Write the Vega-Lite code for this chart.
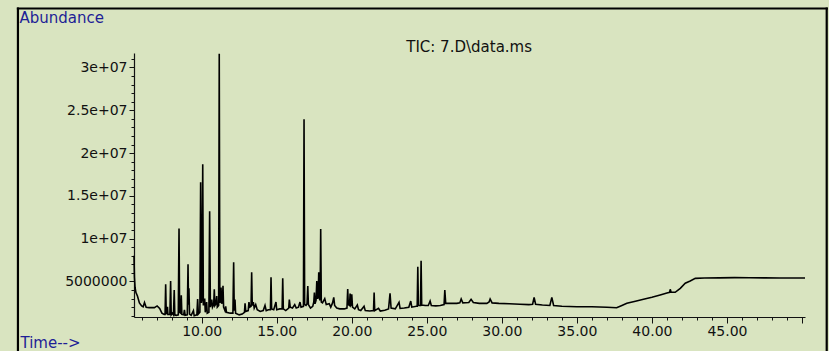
{
"$schema": "https://vega.github.io/schema/vega-lite/v6.json",
"width": 671, "height": 264,
"autosize": "none",
"padding": {"left": 134, "top": 53, "right": 24, "bottom": 34},
"background": "#d9e4c0",
"config": {"view": {"stroke": null}, "font": "DejaVu Sans"},
"data": {"values": [
{"t":5.49,"v":8000000},{"t":5.52,"v":5500000},{"t":5.56,"v":4300000},{"t":5.62,"v":3700000},{"t":5.72,"v":3300000},{"t":5.85,"v":2500000},{"t":6.0,"v":2150000},{"t":6.1,"v":2050000},{"t":6.19,"v":2550000},{"t":6.3,"v":2000000},{"t":6.5,"v":1950000},{"t":6.85,"v":1950000},{"t":7.03,"v":2150000},{"t":7.2,"v":1850000},{"t":7.35,"v":1300000},{"t":7.5,"v":1150000},
{"t":7.56,"v":1150000},{"t":7.6,"v":4670000},{"t":7.64,"v":1200000},{"t":7.7,"v":1400000},{"t":7.72,"v":2050000},{"t":7.75,"v":1150000},{"t":7.88,"v":1150000},{"t":7.93,"v":5060000},{"t":7.97,"v":1100000},{"t":8.05,"v":1300000},{"t":8.12,"v":1100000},{"t":8.17,"v":4000000},{"t":8.21,"v":1100000},{"t":8.3,"v":1050000},{"t":8.44,"v":1100000},{"t":8.49,"v":11200000},{"t":8.53,"v":1400000},{"t":8.6,"v":1300000},{"t":8.64,"v":3400000},{"t":8.68,"v":1150000},{"t":8.8,"v":1100000},{"t":8.85,"v":1700000},{"t":8.9,"v":1050000},{"t":9.04,"v":1100000},{"t":9.09,"v":7000000},{"t":9.12,"v":2300000},{"t":9.15,"v":4200000},{"t":9.19,"v":1200000},{"t":9.3,"v":1050000},{"t":9.45,"v":1600000},{"t":9.5,"v":1000000},{"t":9.68,"v":1100000},{"t":9.73,"v":2950000},{"t":9.78,"v":1200000},
{"t":9.88,"v":1400000},{"t":9.93,"v":16600000},{"t":9.98,"v":2500000},{"t":10.02,"v":3000000},{"t":10.07,"v":18700000},{"t":10.11,"v":2200000},{"t":10.2,"v":3000000},{"t":10.24,"v":1400000},{"t":10.33,"v":2600000},{"t":10.37,"v":1300000},{"t":10.48,"v":1400000},{"t":10.53,"v":13200000},{"t":10.58,"v":2000000},{"t":10.67,"v":2900000},{"t":10.72,"v":2000000},{"t":10.8,"v":2300000},{"t":10.84,"v":4100000},{"t":10.88,"v":2200000},{"t":10.95,"v":2400000},{"t":11.0,"v":3300000},{"t":11.04,"v":2000000},{"t":11.13,"v":2200000},{"t":11.17,"v":31600000},{"t":11.21,"v":2500000},{"t":11.25,"v":2800000},{"t":11.29,"v":4300000},{"t":11.33,"v":2400000},{"t":11.38,"v":2600000},{"t":11.42,"v":4500000},{"t":11.46,"v":2000000},{"t":11.55,"v":1600000},{"t":11.6,"v":2100000},{"t":11.65,"v":1400000},
{"t":11.9,"v":1300000},{"t":12.08,"v":1300000},{"t":12.13,"v":7240000},{"t":12.17,"v":1600000},{"t":12.22,"v":2900000},{"t":12.26,"v":1300000},{"t":12.5,"v":1100000},{"t":12.7,"v":1200000},{"t":12.85,"v":1400000},{"t":12.89,"v":2450000},{"t":12.94,"v":1500000},{"t":13.1,"v":1600000},{"t":13.15,"v":2600000},{"t":13.2,"v":2000000},{"t":13.29,"v":2100000},{"t":13.33,"v":6070000},{"t":13.37,"v":2200000},{"t":13.44,"v":2600000},{"t":13.5,"v":1900000},{"t":13.6,"v":2300000},{"t":13.7,"v":1700000},{"t":13.9,"v":1500000},{"t":14.1,"v":1600000},{"t":14.22,"v":2200000},{"t":14.3,"v":1600000},{"t":14.45,"v":1700000},{"t":14.58,"v":1700000},{"t":14.62,"v":5500000},{"t":14.66,"v":1800000},{"t":14.8,"v":1700000},{"t":14.95,"v":2600000},{"t":15.0,"v":1700000},{"t":15.2,"v":1800000},{"t":15.36,"v":1800000},{"t":15.4,"v":5370000},{"t":15.44,"v":1800000},{"t":15.6,"v":1600000},{"t":15.8,"v":1900000},{"t":15.84,"v":2900000},{"t":15.9,"v":2000000},{"t":16.05,"v":1900000},{"t":16.2,"v":2300000},{"t":16.3,"v":1900000},{"t":16.45,"v":2000000},{"t":16.55,"v":2600000},{"t":16.62,"v":2000000},
{"t":16.78,"v":2100000},{"t":16.82,"v":23950000},{"t":16.86,"v":2300000},{"t":16.95,"v":2200000},{"t":17.02,"v":2400000},{"t":17.07,"v":4470000},{"t":17.11,"v":2300000},{"t":17.25,"v":1900000},{"t":17.4,"v":2100000},{"t":17.47,"v":2600000},{"t":17.51,"v":3700000},{"t":17.55,"v":2400000},{"t":17.62,"v":2800000},{"t":17.67,"v":5060000},{"t":17.71,"v":3000000},{"t":17.76,"v":3200000},{"t":17.8,"v":6070000},{"t":17.84,"v":3000000},{"t":17.89,"v":2800000},{"t":17.93,"v":11130000},{"t":17.97,"v":2600000},{"t":18.05,"v":2500000},{"t":18.2,"v":3000000},{"t":18.3,"v":2300000},{"t":18.5,"v":2400000},{"t":18.6,"v":2000000},{"t":18.72,"v":2500000},{"t":18.8,"v":3150000},{"t":18.86,"v":2200000},{"t":19.0,"v":1900000},{"t":19.2,"v":1800000},{"t":19.5,"v":1800000},{"t":19.68,"v":1900000},{"t":19.73,"v":4120000},{"t":19.77,"v":2300000},{"t":19.85,"v":2200000},{"t":19.89,"v":3600000},{"t":19.93,"v":2200000},{"t":19.97,"v":2300000},{"t":20.0,"v":3500000},{"t":20.05,"v":2000000},{"t":20.2,"v":1800000},{"t":20.37,"v":2250000},{"t":20.45,"v":1700000},{"t":20.6,"v":1600000},{"t":20.82,"v":2100000},{"t":20.9,"v":1600000},{"t":21.2,"v":1550000},{"t":21.45,"v":1600000},{"t":21.49,"v":3700000},{"t":21.53,"v":1600000},{"t":21.78,"v":1870000},{"t":21.9,"v":1550000},{"t":22.2,"v":1650000},{"t":22.45,"v":1800000},{"t":22.55,"v":3620000},{"t":22.62,"v":1900000},{"t":22.9,"v":1800000},{"t":23.15,"v":2570000},{"t":23.22,"v":1850000},{"t":23.5,"v":1900000},{"t":23.8,"v":2000000},{"t":23.93,"v":2720000},{"t":24.0,"v":2000000},{"t":24.3,"v":2100000},{"t":24.36,"v":2100000},{"t":24.4,"v":6730000},{"t":24.44,"v":2200000},{"t":24.58,"v":2200000},{"t":24.62,"v":7430000},{"t":24.66,"v":2250000},{"t":24.9,"v":2200000},{"t":25.1,"v":2200000},{"t":25.22,"v":2720000},{"t":25.3,"v":2200000},{"t":25.6,"v":2150000},{"t":25.9,"v":2200000},{"t":26.15,"v":2300000},{"t":26.2,"v":4000000},{"t":26.26,"v":2450000},{"t":26.6,"v":2450000},{"t":27.0,"v":2450000},{"t":27.2,"v":2500000},{"t":27.29,"v":2960000},{"t":27.4,"v":2500000},{"t":27.8,"v":2550000},{"t":27.95,"v":2920000},{"t":28.1,"v":2550000},{"t":28.5,"v":2450000},{"t":29.0,"v":2450000},{"t":29.15,"v":2600000},{"t":29.22,"v":2960000},{"t":29.35,"v":2500000},{"t":29.8,"v":2450000},{"t":30.5,"v":2400000},{"t":31.2,"v":2350000},{"t":31.8,"v":2300000},{"t":32.05,"v":2350000},{"t":32.15,"v":3150000},{"t":32.25,"v":2350000},{"t":32.7,"v":2250000},{"t":33.2,"v":2200000},{"t":33.33,"v":3150000},{"t":33.45,"v":2200000},{"t":34.0,"v":2100000},{"t":35.0,"v":2050000},{"t":36.0,"v":2050000},{"t":37.0,"v":2000000},{"t":37.65,"v":1940000},{"t":38.0,"v":2200000},{"t":38.33,"v":2450000},{"t":38.9,"v":2700000},{"t":39.44,"v":2920000},{"t":40.0,"v":3150000},{"t":40.55,"v":3420000},{"t":41.0,"v":3650000},{"t":41.18,"v":3740000},{"t":41.22,"v":4090000},{"t":41.28,"v":3740000},{"t":41.55,"v":3740000},{"t":41.89,"v":4200000},{"t":42.22,"v":4800000},{"t":42.55,"v":5060000},{"t":42.89,"v":5370000},{"t":43.5,"v":5400000},{"t":44.5,"v":5420000},{"t":45.5,"v":5450000},{"t":46.5,"v":5430000},{"t":47.5,"v":5420000},{"t":48.5,"v":5400000},{"t":49.5,"v":5400000},{"t":50.2,"v":5400000}
]},
"layer": [
{"mark": {"type": "line", "color": "#000000", "strokeWidth": 1.6},
 "encoding": {
  "x": {"field": "t", "type": "quantitative",
   "scale": {"domain": [5.49, 50.2], "nice": false, "zero": false},
   "axis": {"values": [6,7,8,9,10,11,12,13,14,15,16,17,18,19,20,21,22,23,24,25,26,27,28,29,30,31,32,33,34,35,36,37,38,39,40,41,42,43,44,45,46,47,48,49,50],
    "tickCount": 200,
    "labelExpr": "datum.value % 5 === 0 && datum.value < 50 ? format(datum.value, '.2f') : ''",
    "tickSize": {"condition": {"test": "datum.value % 5 === 0", "value": 6}, "value": 3},
    "tickColor": "#111111", "domainColor": "#111111", "domainWidth": 1.2,
    "labelFontSize": 14, "labelColor": "#111111", "labelPadding": 1, "labelOverlap": false, "labelFlush": false, "grid": false,
    "title": "Time-->", "titleX": -114, "titleY": 18, "titleAlign": "left", "titleBaseline": "top", "titleColor": "#1e1e96", "titleFontWeight": "normal", "titleFontSize": 15, "titleAnchor": null}},
  "y": {"field": "v", "type": "quantitative",
   "scale": {"domain": [853000, 31690000], "nice": false, "zero": false},
   "axis": {"values": [1000000,2000000,3000000,4000000,5000000,6000000,7000000,8000000,9000000,10000000,11000000,12000000,13000000,14000000,15000000,16000000,17000000,18000000,19000000,20000000,21000000,22000000,23000000,24000000,25000000,26000000,27000000,28000000,29000000,30000000,31000000],
    "tickCount": 200,
    "labelExpr": "datum.value % 5000000 !== 0 ? '' : datum.value < 10000000 ? '5000000' : (datum.value / 10000000) + 'e+07'",
    "tickSize": {"condition": {"test": "datum.value % 5000000 === 0", "value": 5}, "value": 3},
    "tickColor": "#111111", "domainColor": "#111111", "domainWidth": 1.2,
    "labelFontSize": 14, "labelColor": "#111111", "labelPadding": 2, "labelOverlap": false, "labelFlush": false, "grid": false,
    "title": "Abundance", "titleAngle": 0, "titleX": -115, "titleY": -43, "titleAlign": "left", "titleBaseline": "top", "titleColor": "#1e1e96", "titleFontWeight": "normal", "titleFontSize": 15, "titleAnchor": null}}
 }},
{"data": {"values": [{"label": "TIC: 7.D\\data.ms"}]}, "mark": {"type": "text", "fontSize": 15, "color": "#111111", "align": "center", "baseline": "middle"},
 "encoding": {"text": {"field": "label", "type": "nominal"}, "x": {"datum": 27.82, "type": "quantitative", "scale": {"domain": [5.49, 50.2], "nice": false, "zero": false}}, "y": {"datum": 32390000, "type": "quantitative", "scale": {"domain": [853000, 31690000], "nice": false, "zero": false}}}},
{"data": {"values": [{}]}, "mark": {"type": "rule", "color": "#000000", "strokeWidth": 2.2, "strokeCap": "square"},
 "encoding": {"x": {"datum": -2.243, "type": "quantitative", "scale": {"domain": [5.49, 50.2], "nice": false, "zero": false}}, "x2": {"datum": 51.647}, "y": {"datum": 36888000, "type": "quantitative", "scale": {"domain": [853000, 31690000], "nice": false, "zero": false}}}},
{"data": {"values": [{}]}, "mark": {"type": "rule", "color": "#000000", "strokeWidth": 2.2, "strokeCap": "square"},
 "encoding": {"x": {"datum": -2.243, "type": "quantitative", "scale": {"domain": [5.49, 50.2], "nice": false, "zero": false}}, "y": {"datum": 36888000, "type": "quantitative", "scale": {"domain": [853000, 31690000], "nice": false, "zero": false}}, "y2": {"datum": -6000000}}},
{"data": {"values": [{}]}, "mark": {"type": "rule", "color": "#000000", "strokeWidth": 2.2, "strokeCap": "square"},
 "encoding": {"x": {"datum": 51.647, "type": "quantitative", "scale": {"domain": [5.49, 50.2], "nice": false, "zero": false}}, "y": {"datum": 36888000, "type": "quantitative", "scale": {"domain": [853000, 31690000], "nice": false, "zero": false}}, "y2": {"datum": -6000000}}}
]
}
